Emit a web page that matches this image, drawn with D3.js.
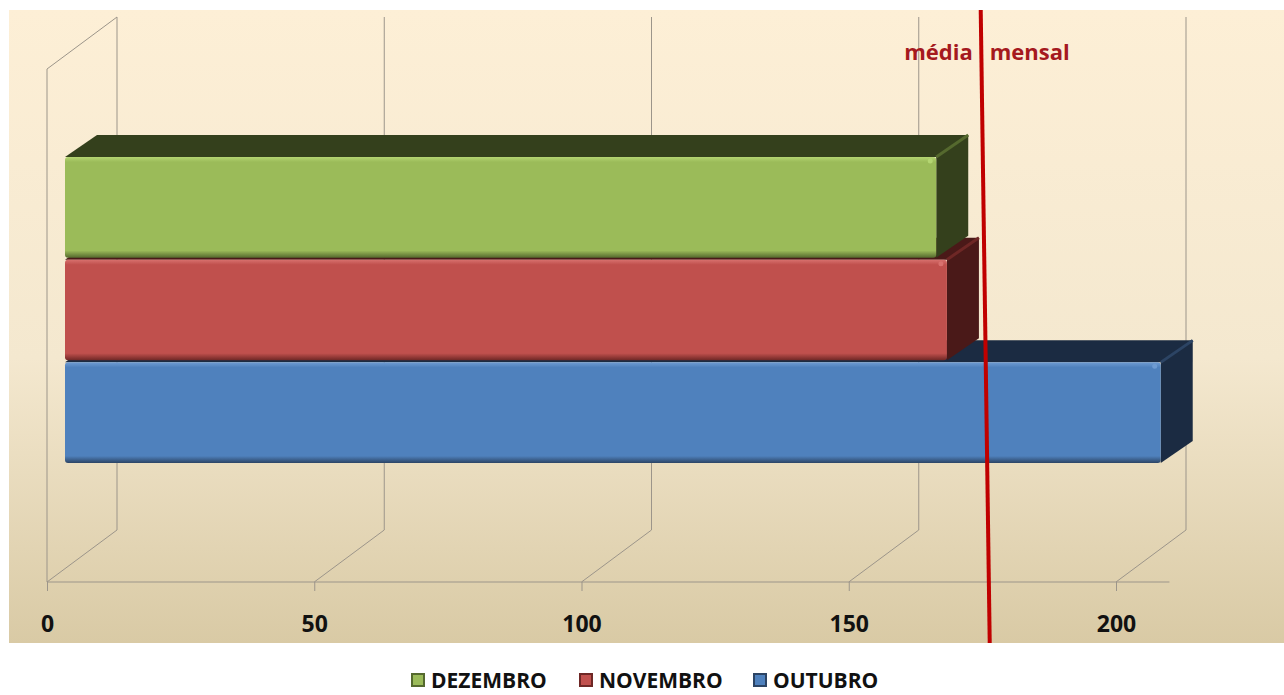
<!DOCTYPE html>
<html>
<head>
<meta charset="utf-8">
<script src="https://cdn.jsdelivr.net/npm/d3@7"></script>
<style>
  body { margin: 0; background: #fff; }
  svg { display: block; font-family: "Open Sans", sans-serif; }
</style>
</head>
<body>
<script>
// data
const series = ['DEZEMBRO', 'NOVEMBRO', 'OUTUBRO'];
const values = [163, 165, 205];
const tickValues = [0, 50, 100, 150, 200];
const mediaMensal = 176;
const mediaLabel = ['média', 'mensal'];

const colors = {
    DEZEMBRO: { face: '#9BBB59', light: '#B4D572', dark: '#34401C', edge: '#55692E' },
    NOVEMBRO: { face: '#C0504D', light: '#D8716E', dark: '#4A1918', edge: '#6E2725' },
    OUTUBRO: { face: '#4F81BD', light: '#6E9BD2', dark: '#1B2B42', edge: '#2C4464' }
};

const W = 1284, H = 695;
const svg = d3.select('body').append('svg').attr('width', W).attr('height', H);
const defs = svg.append('defs');

// plot background gradient
const bg = defs.append('linearGradient').attr('id', 'bg').attr('x1', 0).attr('y1', 0).attr('x2', 0).attr('y2', 1);
bg.append('stop').attr('offset', '0%').attr('stop-color', '#FDEFD6');
bg.append('stop').attr('offset', '55%').attr('stop-color', '#F4E8CF');
bg.append('stop').attr('offset', '100%').attr('stop-color', '#D9CAA5');
svg.append('rect').attr('x', 9).attr('y', 10).attr('width', W - 9).attr('height', 633).attr('fill', 'url(#bg)');

// 3d layout: front axis plane and back wall
const depthX = 70, depthY = -52;
const floorY = 582, wallTop = 69;
const xFront = d3.scaleLinear().domain([0, 200]).range([47, 1116]);
const xBack = v => xFront(v) + depthX;

const grid = svg.append('g').attr('stroke', '#9C958A').attr('stroke-width', 1).attr('fill', 'none');
// left side wall
grid.append('path').attr('d', d3.line()([
    [xFront(0), floorY], [xFront(0), wallTop], [xBack(0), wallTop + depthY]
]));
// back wall verticals + floor diagonals
tickValues.forEach(v => {
    grid.append('path').attr('d', d3.line()([
        [xBack(v), wallTop + depthY], [xBack(v), floorY + depthY], [xFront(v), floorY]
    ]));
});
// front axis line
grid.append('line').attr('x1', xFront(0)).attr('x2', xFront(210)).attr('y1', floorY).attr('y2', floorY);

const axis = svg.append('g').attr('transform', `translate(0,${floorY})`)
    .call(d3.axisBottom(xFront).tickValues(tickValues).tickSize(9).tickPadding(25).tickSizeOuter(0));
axis.select('.domain').remove();
axis.selectAll('line').attr('stroke', '#9C958A');
axis.selectAll('text').attr('font-family', '"Open Sans", sans-serif')
    .attr('font-size', 23).attr('font-weight', 'bold').attr('fill', '#111');

// bars
const xBar = d3.scaleLinear().domain([0, 200]).range([65, 65 + 1069]);
const yBar = d3.scaleBand().domain(series).range([157, 463]).paddingInner(0.02);
const bx = 32, by = -22;

series.forEach(s => {
    const c = colors[s];
    const g = defs.append('linearGradient').attr('id', 'g-' + s).attr('x1', 0).attr('y1', 0).attr('x2', 0).attr('y2', 1);
    g.append('stop').attr('offset', '0%').attr('stop-color', c.light);
    g.append('stop').attr('offset', '5%').attr('stop-color', c.face);
    g.append('stop').attr('offset', '93%').attr('stop-color', c.face);
    g.append('stop').attr('offset', '100%').attr('stop-color', c.edge);
});

const data = series.map((s, i) => ({ name: s, value: values[i] }));
const bars = svg.append('g').selectAll('g').data(data.slice().reverse()).join('g');

bars.each(function (d) {
    const g = d3.select(this);
    const c = colors[d.name];
    const x0 = xBar(0), x1 = xBar(d.value);
    const y0 = yBar(d.name), y1 = y0 + yBar.bandwidth();
    // top face
    g.append('path').attr('fill', c.dark)
        .attr('d', d3.line()([[x0, y0], [x0 + bx, y0 + by], [x1 + bx, y0 + by], [x1, y0]]) + 'Z');
    // right face
    g.append('path').attr('fill', c.dark)
        .attr('d', d3.line()([[x1, y0], [x1 + bx, y0 + by], [x1 + bx, y1 + by], [x1, y1]]) + 'Z');
    // front/right edge highlight
    g.append('line').attr('x1', x1).attr('y1', y0).attr('x2', x1 + bx).attr('y2', y0 + by)
        .attr('stroke', c.edge).attr('stroke-width', 3);
    // front face
    g.append('rect').attr('x', x0).attr('y', y0).attr('width', x1 - x0).attr('height', y1 - y0)
        .attr('rx', 3).attr('fill', `url(#g-${d.name})`);
    g.append('circle').attr('cx', x1 - 6).attr('cy', y0 + 4).attr('r', 2.5).attr('fill', c.light);
});

// monthly mean line
const xm = xFront(mediaMensal);
svg.append('line').attr('x1', xm - 7).attr('y1', 10).attr('x2', xm + 2).attr('y2', 643)
    .attr('stroke', '#C00000').attr('stroke-width', 4);
const lbl = svg.append('g').attr('font-weight', 'bold').attr('font-size', 22).attr('fill', '#A5191E');
lbl.append('text').attr('x', xm - 15).attr('y', 60).attr('text-anchor', 'end').text(mediaLabel[0]);
lbl.append('text').attr('x', xm + 2).attr('y', 60).attr('text-anchor', 'start').text(mediaLabel[1]);

// legend
const legendX = [418, 586, 760];
const legend = svg.append('g').selectAll('g').data(data).join('g')
    .attr('transform', (d, i) => `translate(${legendX[i]},680)`);
legend.append('rect').attr('x', -6).attr('y', -6).attr('width', 12).attr('height', 12)
    .attr('fill', d => colors[d.name].face).attr('stroke', d => colors[d.name].edge).attr('stroke-width', 2);
legend.append('text').attr('x', 13).attr('dy', '0.36em').attr('font-size', 21).attr('font-weight', 'bold')
    .attr('fill', '#111').text(d => d.name);
</script>
</body>
</html>
